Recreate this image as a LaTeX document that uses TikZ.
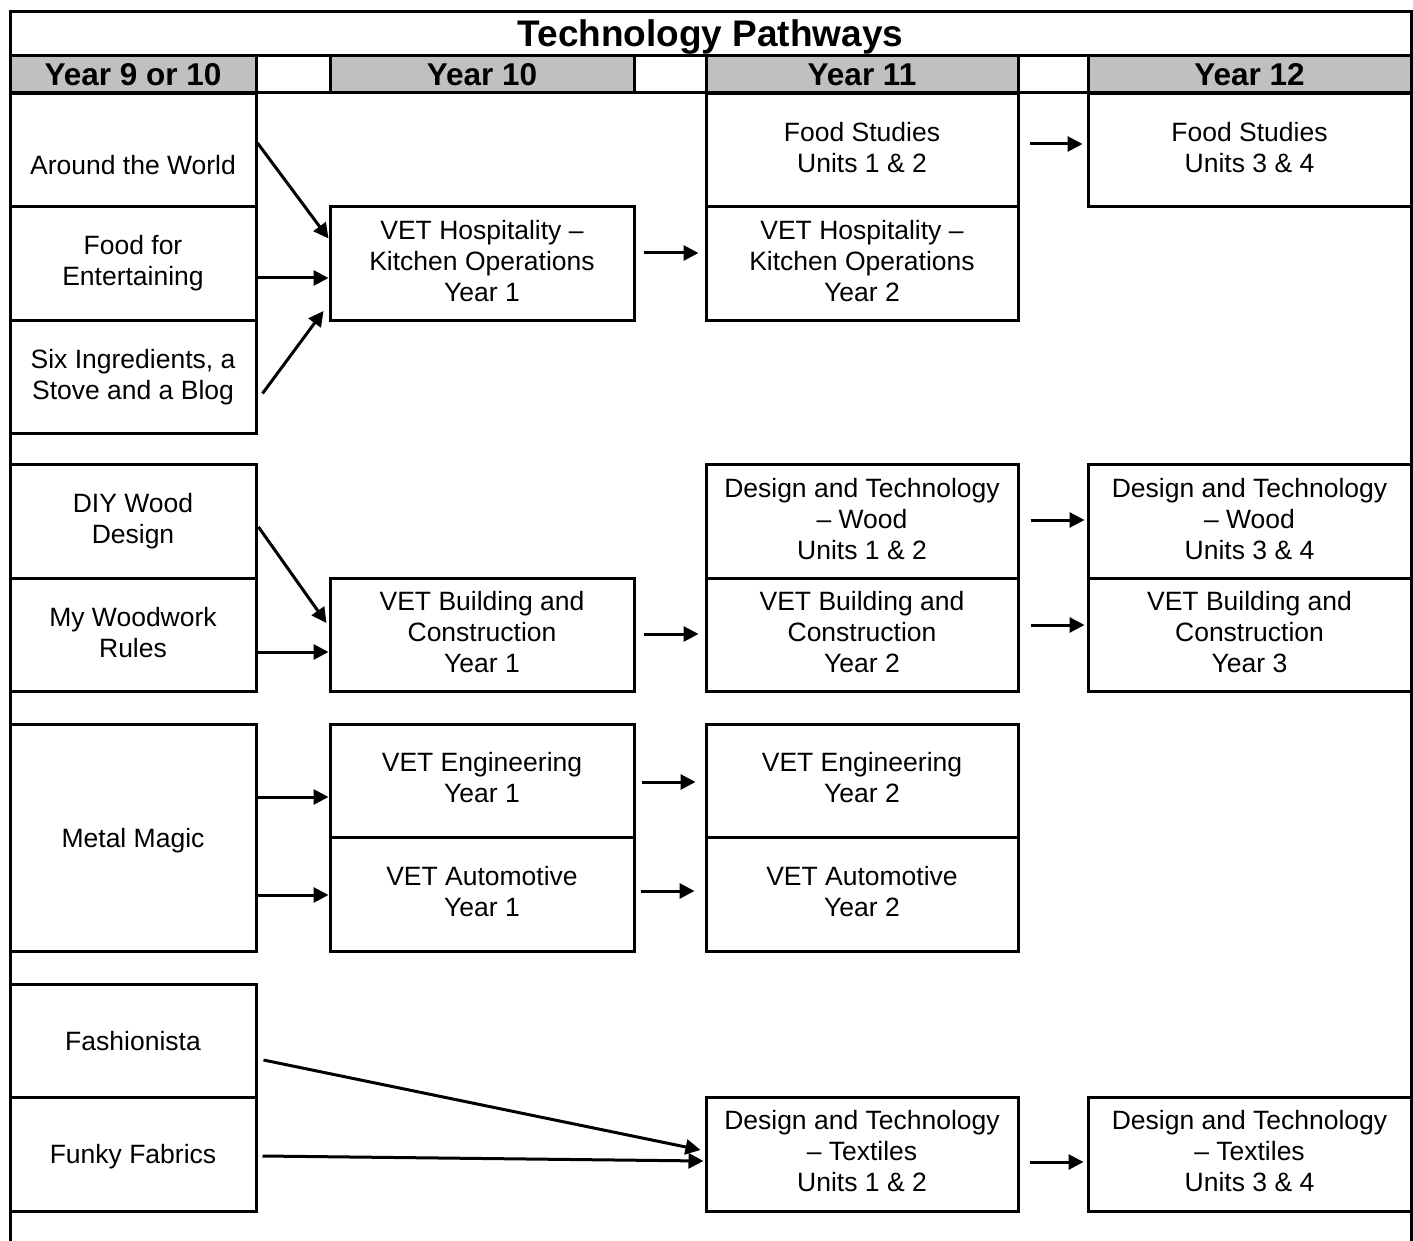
\documentclass[tikz,border=0pt]{standalone}
\usepackage{fontspec}
\setmainfont{Liberation Sans}
\usetikzlibrary{arrows.meta}
\definecolor{headgrey}{RGB}{192,192,192}
\newcommand{\cellstrut}{\rule[-6pt]{0pt}{31pt}}

\begin{document}
\begin{tikzpicture}[x=1pt,y=-1pt]
        \tikzstyle{course}=[draw,line width=3pt,inner sep=0pt,align=center,font=\fontsize{26.5}{31}\selectfont,execute at begin node=\cellstrut,execute at end node=\cellstrut]
        \tikzstyle{yearcell}=[draw,line width=3pt,fill=headgrey,inner sep=0pt,minimum height=37pt,font=\fontsize{31.5}{37}\selectfont\bfseries,text height=22.5pt,text depth=0pt]
        \tikzstyle{edge}=[draw,line width=3pt,-{Triangle[length=15pt,width=15pt]}]
        \tikzstyle{colA}=[minimum width=246pt]
        \tikzstyle{colB}=[minimum width=304pt]
        \tikzstyle{colC}=[minimum width=312pt]
        \tikzstyle{colD}=[minimum width=323pt]
        \tikzstyle{row}=[minimum height=113.5pt]
        \useasboundingbox (0,0) rectangle (1413,1241);
        % frame and header
        \draw[line width=3pt] (10,1241) -- (10,12) -- (1411,12) -- (1411,1241);
        \draw[line width=3pt] (10,56) -- (1411,56);
        \draw[line width=3pt] (10,93) -- (1411,93);
        \node [font=\fontsize{37}{44}\selectfont\bfseries,text height=26.5pt,text depth=0pt] (title) at (710.5,33) {Technology Pathways};
        \node [yearcell,colA] (h1) at (133,74.5) {Year 9 or 10};
        \node [yearcell,colB] (h2) at (482,74.5) {Year 10};
        \node [yearcell,colC] (h3) at (862,74.5) {Year 11};
        \node [yearcell,colD] (h4) at (1249.5,74.5) {Year 12};
        \begin{scope}
           \node [course,colA,row,text height=56pt,text depth=6pt] (aw) at (133,150) {Around the World};
           \node [course,colA,row] (fe) at (133,263.5) {Food for\\Entertaining};
           \node [course,colA,row] (si) at (133,377) {Six Ingredients, a\\Stove and a Blog};
           \node [course,colB,row] (hk1) at (482,263.5) {VET Hospitality --\\Kitchen Operations\\Year 1};
           \node [course,colC,row] (fs1) at (862,150) {Food Studies\\Units 1 \& 2};
           \node [course,colC,row] (hk2) at (862,263.5) {VET Hospitality --\\Kitchen Operations\\Year 2};
           \node [course,colD,row] (fs2) at (1249.5,150) {Food Studies\\Units 3 \& 4};
           \path ([yshift=7pt]aw.east) edge[edge] ([yshift=25pt]hk1.west);
           \path ([yshift=-14.5pt]fe.east) edge[edge] ([yshift=-14.5pt]hk1.west);
           \path ([xshift=5pt,yshift=-16.5pt]si.east) edge[edge] ([xshift=-5pt,yshift=-47.5pt]hk1.west);
           \path ([yshift=10.5pt]hk1.east) edge[edge,shorten <=8pt,shorten >=6pt] ([yshift=10.5pt]hk2.west);
           \path ([yshift=6pt]fs1.east) edge[edge,shorten <=10pt,shorten >=4pt] ([yshift=6pt]fs2.west);
        \end{scope}
        \begin{scope}
           \node [course,colA,row] (dw) at (133,521.5) {DIY Wood\\Design};
           \node [course,colA,row] (mw) at (133,635) {My Woodwork\\Rules};
           \node [course,colB,row] (bc1) at (482,635) {VET Building and\\Construction\\Year 1};
           \node [course,colC,row] (dt1) at (862,521.5) {Design and Technology\\-- Wood\\Units 1 \& 2};
           \node [course,colC,row] (bc2) at (862,635) {VET Building and\\Construction\\Year 2};
           \node [course,colD,row] (dt2) at (1249.5,521.5) {Design and Technology\\-- Wood\\Units 3 \& 4};
           \node [course,colD,row] (bc3) at (1249.5,635) {VET Building and\\Construction\\Year 3};
           \path ([xshift=1pt,yshift=-5.5pt]dw.east) edge[edge] ([xshift=-2pt,yshift=12pt]bc1.west);
           \path ([yshift=-17pt]mw.east) edge[edge] ([yshift=-17pt]bc1.west);
           \path ([yshift=1pt]bc1.east) edge[edge,shorten <=8pt,shorten >=6pt] ([yshift=1pt]bc2.west);
           \path ([yshift=1.5pt]dt1.east) edge[edge,shorten <=11pt,shorten >=2pt] ([yshift=1.5pt]dt2.west);
           \path ([yshift=10pt]bc2.east) edge[edge,shorten <=11pt,shorten >=2pt] ([yshift=10pt]bc3.west);
        \end{scope}
        \begin{scope}
           \node [course,colA,minimum height=227pt] (mm) at (133,837.5) {Metal Magic};
           \node [course,colB,row] (en1) at (482,780.75) {VET Engineering\\Year 1};
           \node [course,colB,row] (au1) at (482,894.25) {VET Automotive\\Year 1};
           \node [course,colC,row] (en2) at (862,780.75) {VET Engineering\\Year 2};
           \node [course,colC,row] (au2) at (862,894.25) {VET Automotive\\Year 2};
           \path ([yshift=40.5pt]mm.east) edge[edge] ([yshift=-16.25pt]en1.west);
           \path ([yshift=-57.5pt]mm.east) edge[edge] ([yshift=-0.75pt]au1.west);
           \path ([yshift=-1.25pt]en1.east) edge[edge,shorten <=6pt,shorten >=9pt] ([yshift=-1.25pt]en2.west);
           \path ([yshift=3.25pt]au1.east) edge[edge,shorten <=5pt,shorten >=10pt] ([yshift=3.25pt]au2.west);
        \end{scope}
        \begin{scope}
           \node [course,colA,row] (fa) at (133,1040.75) {Fashionista};
           \node [course,colA,row] (ff) at (133,1154.25) {Funky Fabrics};
           \node [course,colC,row] (tx1) at (862,1154.25) {Design and Technology\\-- Textiles\\Units 1 \& 2};
           \node [course,colD,row] (tx2) at (1249.5,1154.25) {Design and Technology\\-- Textiles\\Units 3 \& 4};
           \path ([xshift=6pt,yshift=-19.25pt]fa.east) edge[edge] ([xshift=-4pt,yshift=4.25pt]tx1.west);
           \path ([xshift=5pt,yshift=-1.75pt]ff.east) edge[edge] ([xshift=-1pt,yshift=-6.75pt]tx1.west);
           \path ([yshift=-7.75pt]tx1.east) edge[edge,shorten <=10pt,shorten >=3pt] ([yshift=-7.75pt]tx2.west);
        \end{scope}
\end{tikzpicture}
\end{document}
